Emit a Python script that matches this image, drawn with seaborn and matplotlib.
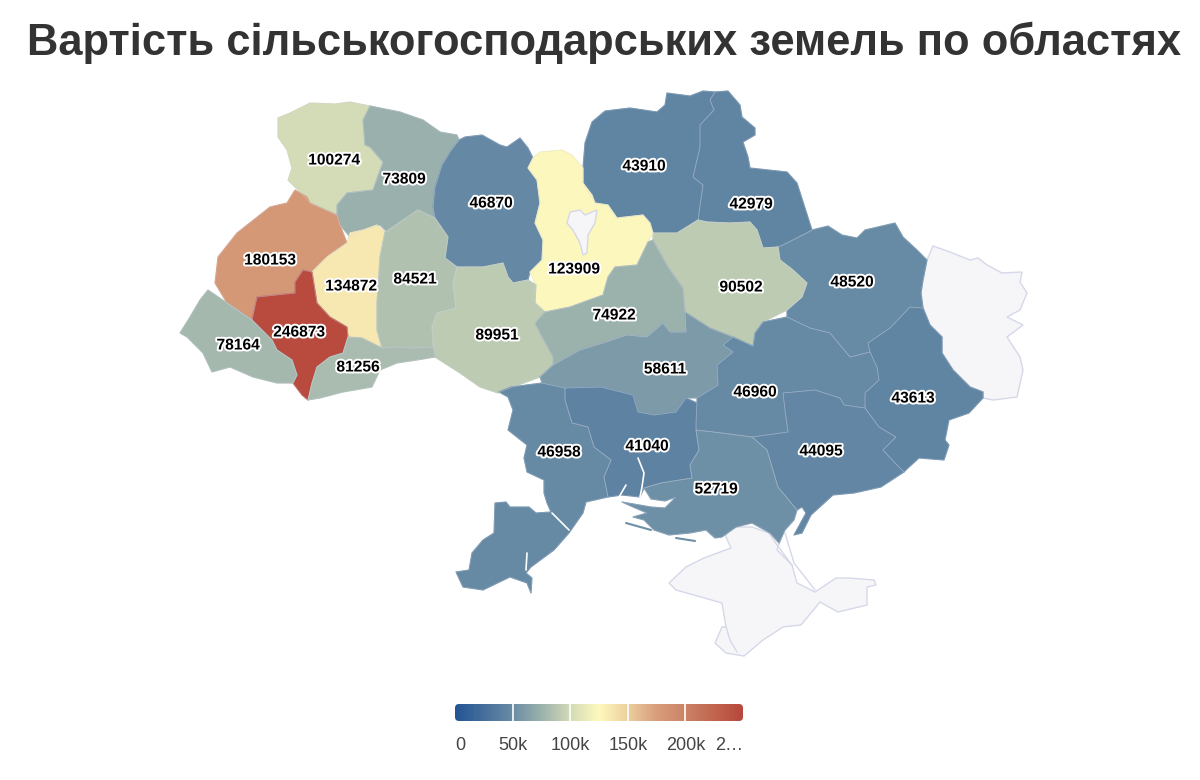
import matplotlib
matplotlib.use("Agg")
import matplotlib.pyplot as plt
import matplotlib.patheffects as pe
from matplotlib.colors import Normalize, to_rgba
from matplotlib.patches import FancyBboxPatch, Polygon
import numpy as np
import seaborn as sns

TITLE = "Вартість сільськогосподарських земель по областях"
regions = ["Volyn", "Rivne", "Zhytomyr", "Chernihiv", "Sumy", "Kharkiv", "Poltava", "Kyiv",
           "Lviv", "Ternopil", "Khmelnytskyi", "Vinnytsia", "Cherkasy", "Ivano-Frankivsk",
           "Zakarpattia", "Chernivtsi", "Kirovohrad", "Dnipropetrovsk", "Donetsk",
           "Zaporizhzhia", "Mykolaiv", "Odesa", "Kherson"]
values = [100274, 73809, 46870, 43910, 42979, 48520, 90502, 123909,
          180153, 134872, 84521, 89951, 74922, 246873,
          78164, 81256, 58611, 46960, 43613,
          44095, 41040, 46958, 52719]
legend_ticks = [0, 50000, 100000, 150000, 200000]
legend_tick_labels = ["0", "50k", "100k", "150k", "200k"]
legend_last_label = "2…"
scale_max = 250000
scale_colors = ["#225593", "#476f9c", "#6a8da5", "#9cb2ac", "#d3dbb7", "#fff9bd",
                "#ecd09f", "#d89e7c", "#cc8367", "#c2654f", "#b7483c"]

# Region outlines and label anchors (map geometry, in the canvas' pixel frame)
outlines = {
 "Volyn": [(278,118),(290,113),(310,103),(335,104),(350,102),(370,106),(363,120),(365,145),(370,147),(383,162),(373,190),(347,193),(337,205),(337,215),(310,203),(298,190),(288,180),(292,168),(287,150),(278,137)],
 "Rivne": [(370,106),(400,112),(423,120),(440,132),(457,135),(459,140),(450,152),(442,165),(435,187),(433,207),(435,218),(418,210),(400,222),(387,232),(380,225),(363,230),(350,237),(340,225),(337,215),(337,205),(347,193),(373,190),(383,162),(370,147),(365,145),(363,120)],
 "Zhytomyr": [(459,140),(465,137),(482,135),(500,145),(507,147),(520,138),(528,148),(533,158),(528,168),(537,180),(540,203),(535,223),(543,240),(542,260),(530,272),(528,280),(513,283),(508,277),(503,263),(483,267),(457,267),(445,258),(448,237),(435,218),(433,207),(435,187),(442,165),(450,152)],
 "Chernihiv": [(605,111),(630,108),(657,112),(665,105),(667,93),(690,96),(703,91),(715,92),(710,100),(714,110),(700,125),(700,147),(693,177),(703,185),(698,220),(677,233),(653,233),(650,223),(643,215),(617,218),(608,205),(595,203),(583,183),(583,168),(585,143),(592,122)],
 "Sumy": [(715,92),(728,91),(740,105),(742,117),(755,128),(755,135),(743,142),(748,157),(750,168),(787,172),(797,183),(805,208),(812,230),(783,245),(778,247),(763,248),(757,230),(750,222),(730,223),(707,222),(698,220),(703,185),(693,177),(700,147),(700,125),(714,110),(710,100)],
 "Kharkiv": [(783,245),(807,233),(812,230),(828,226),(842,235),(857,238),(865,230),(895,223),(903,237),(917,250),(927,260),(923,280),(921,293),(923,308),(910,307),(890,328),(868,343),(870,352),(850,357),(830,333),(810,328),(787,317),(787,310),(802,297),(807,283),(793,270),(780,260),(778,247)],
 "Poltava": [(653,233),(677,233),(698,220),(707,222),(730,223),(750,222),(757,230),(763,248),(778,247),(780,260),(793,270),(807,283),(802,297),(787,310),(763,322),(755,333),(753,346),(733,337),(710,328),(685,312),(683,288),(668,267),(653,240)],
 "Kyiv": [(528,168),(533,158),(540,152),(562,150),(572,155),(583,168),(583,183),(592,195),(595,203),(608,205),(617,218),(643,215),(650,223),(653,233),(648,242),(637,265),(615,267),(608,277),(603,295),(570,307),(545,312),(533,300),(535,283),(530,272),(542,260),(543,240),(535,223),(540,203),(537,180)],
 "Lviv": [(295,190),(307,197),(310,203),(337,215),(340,225),(347,243),(327,257),(312,272),(303,270),(295,282),(295,293),(257,297),(252,320),(227,303),(215,283),(218,257),(237,233),(270,207),(287,203)],
 "Ternopil": [(347,243),(350,233),(363,230),(377,225),(385,232),(380,257),(377,303),(377,330),(382,348),(362,338),(348,337),(347,327),(330,317),(317,303),(312,272),(327,257)],
 "Khmelnytskyi": [(418,210),(435,218),(448,237),(445,258),(457,267),(453,283),(456,308),(437,313),(432,327),(433,347),(413,348),(397,347),(382,348),(377,330),(377,303),(380,257),(385,232),(400,222)],
 "Vinnytsia": [(457,267),(483,267),(503,263),(508,277),(513,283),(528,280),(536,285),(535,303),(545,312),(535,323),(540,333),(553,357),(553,365),(540,377),(510,388),(498,393),(480,387),(460,373),(435,357),(432,327),(437,313),(456,308),(453,283)],
 "Cherkasy": [(648,242),(653,240),(668,267),(683,288),(685,312),(686,332),(670,332),(663,323),(647,337),(627,335),(603,343),(580,350),(553,365),(553,357),(540,333),(535,323),(545,312),(570,307),(603,295),(608,277),(615,267),(637,265)],
 "Ivano-Frankivsk": [(303,270),(312,272),(317,303),(330,317),(347,327),(348,337),(343,353),(330,357),(317,367),(312,383),(308,400),(302,395),(293,383),(297,375),(292,360),(277,350),(272,340),(260,328),(252,320),(257,297),(295,293),(295,282)],
 "Zakarpattia": [(208,290),(227,303),(252,320),(260,328),(272,340),(277,350),(292,360),(297,375),(293,383),(277,383),(253,377),(230,367),(212,372),(203,353),(187,337),(180,333),(190,317),(200,300)],
 "Chernivtsi": [(348,337),(362,338),(382,348),(397,347),(413,348),(433,347),(435,357),(417,360),(397,363),(380,370),(372,387),(343,392),(320,398),(308,400),(312,383),(317,367),(330,357),(343,353)],
 "Kirovohrad": [(685,312),(710,328),(733,337),(723,345),(733,352),(717,365),(718,385),(697,398),(686,398),(676,412),(654,415),(638,412),(633,395),(601,387),(565,388),(542,383),(540,377),(553,365),(580,350),(603,343),(627,335),(647,337),(663,323),(670,332),(686,332)],
 "Dnipropetrovsk": [(733,337),(753,346),(755,333),(763,322),(787,317),(810,328),(830,333),(850,357),(870,352),(877,367),(879,380),(865,393),(865,408),(844,405),(840,398),(815,390),(783,393),(785,410),(788,432),(752,437),(722,433),(696,430),(696,420),(697,403),(697,398),(718,385),(717,365),(733,352),(723,345)],
 "Donetsk": [(923,308),(930,325),(942,337),(942,353),(953,370),(970,387),(983,392),(983,398),(969,413),(949,420),(945,440),(949,445),(944,460),(919,458),(908,468),(904,472),(895,463),(883,450),(896,437),(879,427),(865,408),(865,393),(879,380),(877,367),(870,352),(868,343),(890,328),(910,307)],
 "Zaporizhzhia": [(783,393),(815,390),(840,398),(844,405),(865,408),(879,427),(896,437),(883,450),(895,463),(904,472),(881,487),(854,493),(833,495),(811,515),(802,533),(794,535),(806,513),(802,507),(797,510),(778,487),(767,450),(752,437),(788,432),(785,410)],
 "Mykolaiv": [(565,388),(601,387),(633,395),(638,412),(654,415),(676,412),(686,398),(697,403),(696,430),(699,450),(690,465),(692,478),(661,483),(644,488),(640,497),(622,495),(608,497),(604,477),(611,460),(594,447),(588,427),(572,423),(565,400)],
 "Odesa": [(542,383),(565,388),(565,400),(572,423),(588,427),(594,447),(611,460),(604,477),(608,497),(586,502),(583,513),(569,533),(554,550),(531,567),(526,573),(532,578),(531,593),(527,583),(510,577),(483,590),(463,587),(456,572),(469,570),(472,553),(483,540),(494,533),(495,503),(506,502),(510,507),(529,507),(536,513),(551,512),(547,503),(544,493),(544,480),(527,472),(524,458),(527,445),(508,430),(513,410),(508,397),(499,392),(511,387)],
 "Kherson": [(644,488),(661,483),(692,478),(690,465),(699,450),(696,430),(722,433),(752,437),(767,450),(778,487),(797,510),(794,520),(785,530),(779,543),(770,533),(752,523),(736,527),(722,537),(715,538),(706,530),(690,533),(669,535),(654,530),(644,520),(633,517),(647,513),(633,507),(622,502),(651,507),(665,508),(676,497),(665,501),(651,499)],
}
no_data_outlines = [
 [(927,260),(933,246),(950,252),(970,260),(978,258),(987,265),(1002,273),(1022,272),(1020,282),(1027,293),(1020,310),(1007,317),(1023,325),(1007,337),(1020,357),(1023,370),(1017,397),(993,400),(983,398),(983,392),(970,387),(953,370),(942,353),(942,337),(930,325),(923,308),(921,293),(923,280)],
 [(567,223),(570,212),(580,210),(585,215),(597,210),(595,223),(588,235),(587,253),(583,255),(580,243),(573,230)],
 [(726,530),(736,527),(752,527),(769,533),(783,533),(777,550),(792,565),(797,583),(815,592),(836,578),(849,578),(874,580),(876,585),(867,587),(867,605),(838,612),(820,602),(801,625),(783,627),(763,640),(744,656),(726,653),(715,643),(722,627),(726,627),(722,603),(701,597),(676,590),(669,583),(686,567),(704,558),(731,548),(726,537)],
]
label_anchor = {
 "Volyn": (334,160), "Rivne": (404,179), "Zhytomyr": (491,203), "Chernihiv": (644,166),
 "Sumy": (751,204), "Kharkiv": (852,282), "Poltava": (741,287), "Kyiv": (574,269),
 "Lviv": (270,260), "Ternopil": (351,286), "Khmelnytskyi": (415,279), "Vinnytsia": (497,335),
 "Cherkasy": (614,315), "Ivano-Frankivsk": (299,332), "Zakarpattia": (238,345),
 "Chernivtsi": (358,367), "Kirovohrad": (665,369), "Dnipropetrovsk": (755,392),
 "Donetsk": (913,398), "Zaporizhzhia": (821,451), "Mykolaiv": (647,446), "Odesa": (559,452),
 "Kherson": (716,489),
}
water_lines = [
 [(638,458),(644,473),(642,487),(640,497)],
 [(626,485),(619,497)],
 [(552,513),(569,530)],
 [(527,553),(526,570)],
]
kherson_spits = [[(626,523),(651,530)], [(676,538),(695,541)]]
crimea_lines = [[(785,533),(794,563),(815,590)], [(726,627),(730,640),(737,652)], [(769,533),(777,545),(792,565)]]

sns.set_theme(style="white")
plt.rcParams["font.family"] = ["Liberation Sans", "DejaVu Sans"]

cmap = sns.blend_palette(scale_colors, as_cmap=True)
norm = Normalize(0, scale_max)

fig, ax = plt.subplots(figsize=(12, 7.8), dpi=100)
ax.set_position([0, 0, 1, 1])
sns.despine(ax=ax, left=True, bottom=True)
ax.set_xticks([]); ax.set_yticks([])

EDGE = to_rgba("#cfd3e6", 0.3)
for pts in no_data_outlines:
    ax.add_patch(Polygon(pts, closed=True, facecolor="#f6f6f9", edgecolor="#d5d8e8", lw=1.0, zorder=1))
for name, val in zip(regions, values):
    ax.add_patch(Polygon(outlines[name], closed=True, facecolor=cmap(norm(val)),
                         edgecolor=cmap(norm(val)), lw=0.8, joinstyle="round", zorder=2))
for name, val in zip(regions, values):
    ax.add_patch(Polygon(outlines[name], closed=True, facecolor="none", edgecolor=EDGE, lw=0.6, zorder=3))
# the Kyiv city hole sits above Kyiv oblast
ax.add_patch(Polygon(no_data_outlines[1], closed=True, facecolor="#f6f6f9", edgecolor="#d5d8e8", lw=1.0, zorder=4))
for line in water_lines:
    xs, ys = zip(*line)
    ax.plot(xs, ys, color="white", lw=1.2, zorder=4)
for line in kherson_spits:
    xs, ys = zip(*line)
    ax.plot(xs, ys, color=cmap(norm(values[regions.index("Kherson")])), lw=1.5, zorder=4)
for line in crimea_lines:
    xs, ys = zip(*line)
    ax.plot(xs, ys, color="#d5d8e8", lw=1.0, zorder=1.5)

for name, val in zip(regions, values):
    x, y = label_anchor[name]
    ax.text(x, y, str(val), ha="center", va="center", fontsize=11.2, fontweight="bold", color="black",
            zorder=6, path_effects=[pe.withStroke(linewidth=2.8, foreground="white")])

ax.text(604.5, 43, TITLE, ha="center", va="center", fontsize=31.35, fontweight="bold", color="#333333")

# Legend bar
bar_x0, bar_x1, bar_y0, bar_y1 = 455, 743, 704, 721
grad = np.linspace(0, 1, 512).reshape(1, -1)
im = ax.imshow(grad, cmap=cmap, extent=[bar_x0, bar_x1, bar_y1, bar_y0], aspect="auto", zorder=2, vmin=0, vmax=1)
clip = FancyBboxPatch((bar_x0 + 4, bar_y0 + 4), bar_x1 - bar_x0 - 8, bar_y1 - bar_y0 - 8,
                      boxstyle="round,pad=4", transform=ax.transData, facecolor="none", edgecolor="none")
ax.add_patch(clip)
im.set_clip_path(clip)
px = lambda v: bar_x0 + (bar_x1 - bar_x0) * v / scale_max
for t in legend_ticks[1:]:
    ax.plot([px(t), px(t)], [bar_y0, bar_y1], color="white", lw=1.2, zorder=3)
for t, lab in zip(legend_ticks, legend_tick_labels):
    x = px(t) if t else bar_x0 + 5
    ax.text(x, 746, lab, ha="center", va="center", fontsize=13, color="#444444")
ax.text(729, 746, legend_last_label, ha="center", va="center", fontsize=13, color="#444444")

ax.set_xlim(0, 1200)
ax.set_ylim(780, 0)
fig.savefig("out.png", dpi=100, facecolor="white")
